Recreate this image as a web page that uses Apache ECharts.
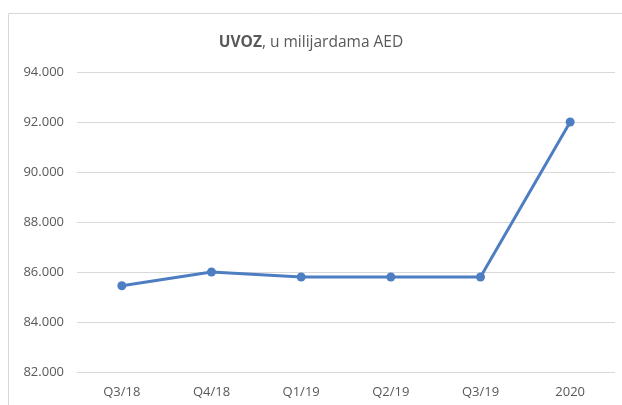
<!DOCTYPE html>
<html>
<head>
<meta charset="utf-8">
<script src="https://cdn.jsdelivr.net/npm/echarts@6/dist/echarts.min.js"></script>
<style>
  html, body { margin: 0; padding: 0; background: #fff; }
  #chart { width: 622px; height: 405px; }
</style>
</head>
<body>
<div id="chart"></div>
<script>
var categories = ['Q3/18', 'Q4/18', 'Q1/19', 'Q2/19', 'Q3/19', '2020'];
var uvoz = [85.45, 86.0, 85.8, 85.8, 85.8, 92.0];

var myChart = echarts.init(document.getElementById('chart'));
var fontName = 'Open Sans';

var option = {
    animation: false,
    textStyle: { fontFamily: fontName },
    title: {
        text: '{b|UVOZ}{n|, u milijardama AED}',
        left: 'center',
        top: 30,
        textStyle: {
            rich: {
                b: { fontWeight: 'bold', fontSize: 15.5, color: '#595959', fontFamily: fontName },
                n: { fontWeight: 'normal', fontSize: 15.5, color: '#595959', fontFamily: fontName }
            }
        }
    },
    graphic: [{
        type: 'rect',
        shape: { x: 8.5, y: 13.5, width: 700, height: 500 },
        style: { fill: 'none', stroke: '#d9d9d9', lineWidth: 1 },
        silent: true
    }],
    grid: { left: 77, right: 7, top: 72, bottom: 33 },
    xAxis: {
        type: 'category',
        data: categories,
        boundaryGap: true,
        axisLine: { show: false },
        axisTick: { show: false },
        axisLabel: { color: '#595959', fontSize: 13, margin: 14 }
    },
    yAxis: {
        type: 'value',
        min: 82,
        max: 94,
        interval: 2,
        axisLine: { show: false },
        axisTick: { show: false },
        splitLine: { lineStyle: { color: '#d9d9d9', width: 1 } },
        axisLabel: {
            color: '#595959',
            fontSize: 13,
            margin: 13,
            formatter: function (v) { return v.toFixed(3); }
        }
    },
    series: [{
        type: 'line',
        data: uvoz,
        symbol: 'circle',
        symbolSize: 9,
        lineStyle: { color: '#4e7ec2', width: 3 },
        itemStyle: { color: '#4e7ec2' }
    }]
};
myChart.setOption(option);
</script>
</body>
</html>
